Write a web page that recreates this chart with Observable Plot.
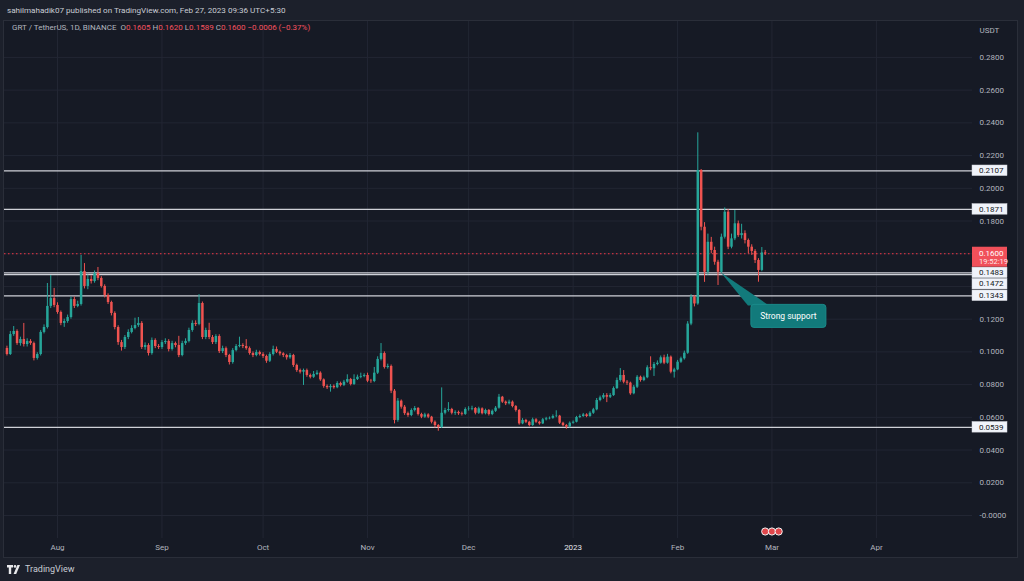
<!DOCTYPE html>
<html><head><meta charset="utf-8">
<script src="https://cdn.jsdelivr.net/npm/d3@7"></script>
<script src="https://cdn.jsdelivr.net/npm/@observablehq/plot@0.6"></script>
<style>
html,body{margin:0;padding:0;background:#1c202b;}
#chart{position:relative;width:1024px;height:581px;overflow:hidden;background:#1c202b;font-family:Roboto,"Noto Sans",sans-serif;}
#pane{position:absolute;left:3px;top:20px;width:1013px;height:536px;background:#161a25;border:1px solid #2a2e39;}
#chart svg.plot{position:absolute;left:0;top:0;}
.hdr{position:absolute;white-space:pre;}
</style></head><body><div id="chart"><div id="pane"></div></div>
<script>
// ---------- data ----------
const startDate = "2022-07-17";           // first daily candle
const firstOpen = 0.1021;
const closes = [
.0984,.1106,.1125,.1051,.1076,.1045,.1064,.1051,.0960,.0984,
.1119,.1149,.1278,.1326,.1284,.1241,.1174,.1186,.1210,.1320,
.1278,.1290,.1491,.1400,.1443,.1430,.1479,.1449,.1400,.1345,
.1302,.1235,.1149,.1057,.1027,.1088,.1119,.1143,.1161,.1174,
.1027,.1039,.0990,.1070,.1033,.1027,.1057,.1064,.1015,.1051,
.1039,.0978,.1051,.1064,.1131,.1174,.1168,.1296,.1088,.1131,
.1088,.1057,.1094,.1002,.1020,.0978,.0935,.1008,.1033,.1039,
.1033,.1020,.0990,.0978,.0996,.0984,.0972,.0943,.0984,.1015,
.0998,.0988,.0978,.0964,.0978,.0917,.0886,.0876,.0886,.0856,
.0845,.0862,.0870,.0829,.0789,.0781,.0789,.0781,.0807,.0795,
.0815,.0831,.0801,.0831,.0845,.0850,.0856,.0821,.0819,.0870,
.0954,.0990,.0905,.0911,.0760,.0581,.0699,.0662,.0623,.0611,
.0642,.0654,.0617,.0601,.0615,.0601,.0570,.0550,.0538,.0625,
.0642,.0648,.0625,.0630,.0622,.0618,.0648,.0650,.0654,.0625,
.0652,.0622,.0642,.0617,.0637,.0656,.0723,.0693,.0683,.0693,
.0666,.0642,.0560,.0581,.0570,.0550,.0585,.0570,.0560,.0585,
.0591,.0594,.0605,.0607,.0564,.0550,.0540,.0564,.0570,.0599,
.0605,.0615,.0605,.0625,.0646,.0703,.0719,.0733,.0723,.0733,
.0776,.0825,.0856,.0815,.0809,.0744,.0784,.0845,.0825,.0842,
.0903,.0897,.0923,.0931,.0964,.0931,.0968,.0876,.0890,.0937,
.0958,.0992,.1170,.1334,.1293,.2109,.1762,.1487,.1670,.1620,
.1548,.1487,.1701,.1854,.1640,.1691,.1783,.1711,.1723,.1681,
.1640,.1614,.1559,.1498,.1605,.1600];
const highs = [
.1035,.1125,.1155,.1135,.1090,.1174,.1080,.1075,.1060,.0995,
.1130,.1165,.1418,.1467,.1388,.1300,.1250,.1200,.1225,.1335,
.1335,.1310,.1590,.1540,.1470,.1465,.1495,.1516,.1460,.1410,
.1355,.1310,.1245,.1160,.1070,.1100,.1135,.1160,.1206,.1210,
.1185,.1055,.1050,.1085,.1080,.1045,.1070,.1080,.1075,.1065,
.1060,.1095,.1065,.1080,.1145,.1190,.1190,.1350,.1305,.1145,
.1175,.1100,.1105,.1105,.1035,.1030,.0985,.1020,.1045,.1090,
.1050,.1075,.1030,.1000,.1010,.1005,.0995,.0980,.0995,.1035,
.1030,.1005,.0995,.0985,.0990,.0985,.0925,.0895,.0895,.0895,
.0865,.0880,.0885,.0878,.0835,.0798,.0800,.0798,.0818,.0815,
.0826,.0860,.0838,.0860,.0858,.0870,.0866,.0870,.0832,.0905,
.0970,.1051,.1000,.0925,.0920,.0770,.0715,.0706,.0672,.0632,
.0652,.0666,.0660,.0625,.0625,.0622,.0606,.0578,.0556,.0780,
.0655,.0690,.0655,.0640,.0638,.0632,.0658,.0665,.0668,.0660,
.0662,.0658,.0650,.0648,.0645,.0666,.0740,.0728,.0700,.0705,
.0700,.0672,.0648,.0592,.0588,.0576,.0595,.0592,.0576,.0593,
.0600,.0602,.0615,.0640,.0612,.0570,.0556,.0572,.0578,.0606,
.0615,.0624,.0622,.0634,.0655,.0715,.0730,.0745,.0745,.0745,
.0786,.0840,.0898,.0886,.0825,.0815,.0795,.0855,.0852,.0852,
.0915,.0970,.0935,.0945,.0975,.0980,.0985,.0975,.0900,.0948,
.0968,.1005,.1185,.1350,.1345,.2339,.2115,.1790,.1720,.1700,
.1640,.1560,.1720,.1880,.1870,.1720,.1864,.1800,.1780,.1740,
.1690,.1655,.1625,.1570,.1638,.1620];
const lows = [
.0975,.0978,.1095,.1040,.1035,.1030,.1030,.1040,.0945,.0950,
.0975,.1110,.1140,.1265,.1270,.1230,.1160,.1150,.1175,.1200,
.1265,.1270,.1280,.1385,.1380,.1415,.1420,.1435,.1390,.1330,
.1290,.1220,.1135,.1040,.1005,.1015,.1075,.1110,.1135,.1150,
.1015,.1010,.0975,.0980,.1020,.1015,.1015,.1045,.1000,.1005,
.1025,.0965,.0970,.1040,.1055,.1120,.1155,.1160,.1075,.1075,
.1075,.1045,.1045,.0990,.0990,.0965,.0920,.0925,.1000,.1025,
.1020,.1010,.0980,.0965,.0970,.0975,.0960,.0930,.0935,.0975,
.0990,.0975,.0965,.0950,.0955,.0905,.0875,.0865,.0795,.0845,
.0835,.0838,.0855,.0820,.0778,.0770,.0754,.0772,.0775,.0786,
.0788,.0808,.0792,.0795,.0825,.0836,.0842,.0812,.0808,.0812,
.0862,.0945,.0895,.0895,.0745,.0560,.0570,.0650,.0612,.0600,
.0604,.0633,.0608,.0592,.0594,.0592,.0560,.0535,.0515,.0532,
.0615,.0632,.0615,.0612,.0612,.0608,.0612,.0638,.0640,.0615,
.0618,.0615,.0615,.0608,.0610,.0630,.0650,.0685,.0672,.0676,
.0658,.0632,.0552,.0555,.0562,.0542,.0545,.0563,.0552,.0556,
.0578,.0585,.0588,.0598,.0556,.0542,.0527,.0535,.0558,.0566,
.0592,.0600,.0598,.0600,.0618,.0640,.0695,.0710,.0690,.0715,
.0728,.0770,.0815,.0805,.0795,.0735,.0738,.0776,.0815,.0818,
.0836,.0885,.0850,.0915,.0925,.0922,.0925,.0866,.0840,.0885,
.0930,.0950,.0985,.1160,.1275,.1285,.1740,.1425,.1470,.1600,
.1530,.1406,.1480,.1690,.1625,.1630,.1680,.1700,.1690,.1660,
.1600,.1590,.1540,.1426,.1490,.1589];
const levels = [0.2107, 0.1871, 0.1483, 0.1472, 0.1343, 0.0539];
const yTicks = [0, 0.02, 0.04, 0.06, 0.08, 0.10, 0.12, 0.14, 0.16, 0.18, 0.20, 0.22, 0.24, 0.26, 0.28];
const monthTicks = ["2022-08-01","2022-09-01","2022-10-01","2022-11-01","2022-12-01","2023-01-01","2023-02-01","2023-03-01","2023-04-01"];
const monthLabels = ["Aug","Sep","Oct","Nov","Dec","2023","Feb","Mar","Apr"];
const lastPrice = 0.1600;
const countdown = "19:52:19";
const annotation = {date: "2023-02-14", price: 0.1483, text: "Strong support"};
const eventDates = ["2023-02-27", "2023-03-01", "2023-03-03"];
const publishLine = "sahilmahadik07 published on TradingView.com, Feb 27, 2023 09:36 UTC+5:30";
const symbolTitle = "GRT / TetherUS, 1D, BINANCE";
const legendKeys = ["O", "H", "L", "C"];
const legendVals = ["0.1605", "0.1620", "0.1589", "0.1600"];
const legendChange = "\u22120.0006 (\u22120.37%)";

// ---------- layout ----------
const W = 1024, H = 581;
const mL = 4, mR = 52, mT = 21, mB = 43;
const UP = "#26a69a", DOWN = "#ef5350";
const DAY = 864e5;
const pxPerDay = 3.37, aug1 = Date.UTC(2022, 7, 1), aug1px = 57;
const xDomain = [new Date(aug1 - (aug1px - mL) / pxPerDay * DAY), new Date(aug1 + (W - mR - aug1px) / pxPerDay * DAY)];
const zeroPx = 515, pxPerUnit = 1636;
const yDomain = [(zeroPx - (H - mB)) / pxPerUnit, (zeroPx - mT) / pxPerUnit];

const t0 = Date.parse(startDate + "T00:00:00Z");
const candles = closes.map((c, i) => {
  const open = i === 0 ? firstOpen : closes[i - 1];
  return {date: new Date(t0 + i * DAY), open, close: c, high: highs[i], low: lows[i], col: c >= open ? UP : DOWN};
});
const monthDates = monthTicks.map(s => new Date(s + "T00:00:00Z"));
const labelOf = new Map(monthDates.map((d, i) => [+d, monthLabels[i]]));
const fmt = v => v === 0 ? "-0.0000" : v.toFixed(4);

// price-scale boxes: level labels pushed apart when they collide, and the last-price box
const yPix = d3.scaleLinear().domain(yDomain).range([H - mB, mT]);
const boxes = [];
{
  let prev = -Infinity;
  levels.slice().sort((a, b) => b - a).forEach(v => {
    let cy = yPix(v);
    if (cy < prev + 11.3) cy = prev + 11.3;
    prev = cy;
    boxes.push({v, top: cy - 5.3, bottom: cy + 5.3});
  });
}
const pBox = {top: yPix(lastPrice) - 6.5, bottom: yPix(lastPrice) + 13.5};
const covered = [...boxes, pBox];
const labelTicks = yTicks.filter(v => { const p = yPix(v); return !covered.some(b => p > b.top - 4 && p < b.bottom + 4); });

const plot = Plot.plot({
  width: W, height: H,
  marginLeft: mL, marginRight: mR, marginTop: mT, marginBottom: mB,
  x: {type: "utc", domain: xDomain},
  y: {domain: yDomain},
  color: {type: "identity"},
  style: {background: "transparent", color: "#b2b5be", fontFamily: "Roboto, 'Noto Sans', sans-serif", fontSize: "8px"},
  marks: [
    Plot.ruleY(yTicks, {stroke: "#222633"}),
    Plot.ruleX(monthDates, {stroke: "#222633"}),
    Plot.ruleY(levels, {stroke: "#cfd1d8", strokeWidth: 1.2}),
    Plot.ruleY([lastPrice], {stroke: "#f23645", strokeDasharray: "1.5,2.5"}),
    Plot.ruleX(candles, {x: "date", y1: "low", y2: "high", stroke: "col", strokeWidth: 1}),
    Plot.ruleX(candles, {x: "date", y1: "open", y2: "close", stroke: "col", strokeWidth: 2.5}),
    Plot.axisY(labelTicks, {anchor: "right", tickSize: 0, tickPadding: 7, tickFormat: fmt, fill: "#b2b5be"}),
    Plot.axisX(monthDates, {anchor: "bottom", tickSize: 0, tickPadding: 6, tickFormat: d => labelOf.get(+d),
      fill: d => (labelOf.get(+d) === "2023" ? "#e3e5ea" : "#b2b5be"), fontWeight: d => (labelOf.get(+d) === "2023" ? "bold" : "normal")}),
    Plot.text(["USDT"], {frameAnchor: "top-right", dx: 7, dy: 6, textAnchor: "start", fill: "#b2b5be"}),
    Plot.dot(eventDates.map(s => new Date(s + "T00:00:00Z")), {x: d => d, frameAnchor: "bottom", dy: -7, r: 3.6, fill: "#e0474c", stroke: "#f4f4f4", strokeWidth: 1})
  ]
});
plot.classList.add("plot");
document.getElementById("chart").appendChild(plot);

// ---------- labels and callout, placed through the plot's scales ----------
const xs = plot.scale("x"), ys = plot.scale("y");
const svg = d3.select(plot);
const g = svg.append("g").attr("font-family", "Roboto, 'Noto Sans', sans-serif").attr("font-size", 8).attr("text-anchor", "start");
const axisX0 = W - mR;

// callout
const tx = xs.apply(new Date(annotation.date + "T00:00:00Z")), ty = ys.apply(annotation.price);
const bx = tx + 30, by = ty + 32, bw = 75, bh = 23;
g.append("path").attr("d", `M${tx},${ty}L${bx - 3},${by + 1}L${bx + 18},${by + 1}Z`).attr("fill", "#127a7b");
g.append("rect").attr("x", bx).attr("y", by).attr("width", bw).attr("height", bh).attr("rx", 3).attr("fill", "#127a7b").attr("stroke", "#1a8a8a");
g.append("text").attr("x", bx + bw / 2).attr("y", by + bh / 2).attr("dy", "0.35em").attr("text-anchor", "middle")
  .attr("fill", "#ffffff").attr("font-size", 8.5).text(annotation.text);

boxes.forEach(b => {
  g.append("rect").attr("x", axisX0).attr("y", b.top).attr("width", 35).attr("height", b.bottom - b.top).attr("fill", "#f0f3fa").attr("stroke", "#d0d3da").attr("stroke-width", 0.5);
  g.append("text").attr("x", axisX0 + 7).attr("y", (b.top + b.bottom) / 2).attr("dy", "0.35em").attr("fill", "#131722").text(fmt(b.v));
});
const py = ys.apply(lastPrice);
g.append("rect").attr("x", axisX0).attr("y", pBox.top).attr("width", 35).attr("height", pBox.bottom - pBox.top).attr("fill", "#f0505a");
g.append("text").attr("x", axisX0 + 7).attr("y", py - 0.5).attr("dy", "0.35em").attr("fill", "#ffffff").text(fmt(lastPrice));
g.append("text").attr("x", axisX0 + 7).attr("y", py + 8.5).attr("dy", "0.35em").attr("fill", "#ffe9ea").attr("font-size", 7.5).text(countdown);

// ---------- header / footer text ----------
const chart = document.getElementById("chart");
const h1 = document.createElement("div");
h1.className = "hdr";
h1.style.cssText = "left:7px;top:5px;font-size:8.1px;color:#c9ccd4;";
h1.textContent = publishLine;
chart.appendChild(h1);
const h2 = document.createElement("div");
h2.className = "hdr";
h2.style.cssText = "left:12px;top:23px;font-size:8px;color:#b2b5be;";
let html = symbolTitle + " ";
legendKeys.forEach((k, i) => { html += ` ${k}<span style="color:#f7525f">${legendVals[i]}</span>`; });
html += ` <span style="color:#f7525f">${legendChange}</span>`;
h2.innerHTML = html;
chart.appendChild(h2);
const ft = document.createElement("div");
ft.className = "hdr";
ft.style.cssText = "left:7px;top:564px;font-size:9px;color:#c9ccd4;display:flex;align-items:center;gap:3px;";
ft.innerHTML = '<svg width="15" height="9" viewBox="0 0 15 9"><path d="M0 0h6v2.6H4.2V9H1.8V2.6H0z" fill="#e8e9ec"/><circle cx="8" cy="1.4" r="1.3" fill="#e8e9ec"/><path d="M6.6 9L10.4 0h2.6l-3.8 9z" fill="#e8e9ec"/></svg><span>TradingView</span>';
chart.appendChild(ft);
</script></body></html>
